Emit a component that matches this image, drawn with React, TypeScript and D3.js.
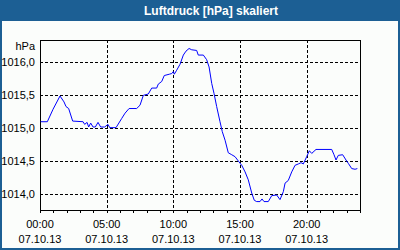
import React from "react";
import * as d3 from "d3";

const title = "Luftdruck [hPa] skaliert";
const unitLabel = "hPa";
const dateLabel = "07.10.13";
const xTickHours = [0, 5, 10, 15, 20];
const xTickLabels = ["00:00", "05:00", "10:00", "15:00", "20:00"];
const yTickValues = [1014.0, 1014.5, 1015.0, 1015.5, 1016.0];
const yTickLabels = ["1014,0", "1014,5", "1015,0", "1015,5", "1016,0"];

const hours = [
  0.05, 0.55, 0.98, 1.5, 1.8, 1.95, 2.15, 2.45, 3.23, 3.35, 3.53, 3.65, 3.8, 3.98, 4.15, 4.35, 4.55,
  4.85, 5.1, 5.23, 5.7, 6.13, 6.38, 6.68, 7.25, 7.5, 7.75, 8.12, 8.38, 8.75, 8.87, 9.13, 9.32, 9.7,
  9.88, 10.0, 10.07, 10.25, 10.5, 10.75, 10.95, 11.18, 11.38, 11.75, 11.87, 12.25, 12.5, 12.68, 12.88,
  13.05, 13.25, 13.5, 13.67, 13.88, 14.12, 14.38, 14.63, 14.93, 15.13, 15.38, 15.62, 15.88, 16.07,
  16.25, 16.5, 16.65, 16.8, 17.12, 17.38, 17.75, 18.0, 18.25, 18.38, 18.62, 18.88, 19.13, 19.37,
  19.58, 19.75, 20.0, 20.2, 20.38, 20.7, 21.88, 22.05, 22.2, 22.37, 22.7, 22.95, 23.12, 23.38, 23.63,
  23.8,
];
const pressure = [
  1015.1, 1015.1, 1015.29, 1015.49, 1015.4, 1015.33, 1015.3, 1015.11, 1015.1, 1015.06, 1015.09,
  1015.02, 1015.08, 1015.02, 1015.02, 1015.09, 1015.02, 1015.02, 1015.06, 1015.01, 1015.01, 1015.15,
  1015.23, 1015.3, 1015.3, 1015.35, 1015.5, 1015.52, 1015.61, 1015.61, 1015.67, 1015.71, 1015.8,
  1015.82, 1015.83, 1015.86, 1015.82, 1015.88, 1015.97, 1016.11, 1016.17, 1016.21, 1016.19, 1016.18,
  1016.11, 1016.11, 1016.04, 1015.93, 1015.68, 1015.53, 1015.33, 1015.1, 1014.95, 1014.82, 1014.63,
  1014.6, 1014.57, 1014.49, 1014.44, 1014.34, 1014.22, 1014.02, 1013.91, 1013.89, 1013.89, 1013.93,
  1013.89, 1013.89, 1013.98, 1013.99, 1013.92, 1014.04, 1014.17, 1014.21, 1014.34, 1014.44, 1014.46,
  1014.48, 1014.46, 1014.57, 1014.66, 1014.62, 1014.68, 1014.68, 1014.6, 1014.52, 1014.59, 1014.6,
  1014.52, 1014.47, 1014.39, 1014.38, 1014.39,
];

const W = 400;
const H = 250;
const left = 40;
const right = 360;
const top = 40;
const bottom = 210;
const font = "'Liberation Sans', Arial, sans-serif";
const frameBlue = "#1c5f94";

export default function App() {
  const x = d3.scaleLinear().domain([0, 24]).range([left, right]);
  const y = d3
    .scaleLinear()
    .domain([1015.0 - (bottom - 128.33) / 66, 1015.0 + (128.33 - top) / 66])
    .range([bottom, top]);
  const pts: [number, number][] = hours.map((h, i) => [h, pressure[i]]);
  const line = d3
    .line<[number, number]>()
    .x((d) => x(d[0]))
    .y((d) => y(d[1]));
  const minorTicks = d3.range(0, 25, 1);
  return (
    <div>
      <style>{`body{margin:0;}`}</style>
      <svg width={W} height={H} style={{ display: "block" }}>
        <rect x={0} y={0} width={W} height={H} fill={frameBlue} />
        <rect x={2} y={21} width={W - 4} height={H - 23} fill="#fbfdfb" />
        <text
          x={211}
          y={15}
          textAnchor="middle"
          fill="#ffffff"
          fontFamily={font}
          fontWeight="bold"
          fontSize={12}
        >
          {title}
        </text>
        {/* grid */}
        {yTickValues.map((v, i) => (
          <line
            key={"gy" + i}
            x1={left}
            x2={right}
            y1={Math.round(y(v)) + 0.5}
            y2={Math.round(y(v)) + 0.5}
            stroke="#000"
            strokeDasharray="3,2"
            shapeRendering="crispEdges"
          />
        ))}
        {xTickHours.slice(1).map((h, i) => (
          <line
            key={"gx" + i}
            x1={Math.round(x(h)) + 0.5}
            x2={Math.round(x(h)) + 0.5}
            y1={top}
            y2={bottom}
            stroke="#000"
            strokeDasharray="3,2"
            shapeRendering="crispEdges"
          />
        ))}
        {/* frame */}
        <rect
          x={left + 0.5}
          y={top + 0.5}
          width={right - left}
          height={bottom - top}
          fill="none"
          stroke="#000"
          shapeRendering="crispEdges"
        />
        {minorTicks.map((h) => (
          <line
            key={"t" + h}
            x1={Math.round(x(h)) + 0.5}
            x2={Math.round(x(h)) + 0.5}
            y1={bottom}
            y2={bottom + 3}
            stroke="#000"
            shapeRendering="crispEdges"
          />
        ))}
        {/* data */}
        <path d={line(pts) || ""} fill="none" stroke="#0000ff" strokeWidth={1} />
        {/* y labels */}
        <text x={35} y={50} textAnchor="end" fontFamily={font} fontSize={11} fill="#000">
          {unitLabel}
        </text>
        {yTickValues.map((v, i) => (
          <text
            key={"yl" + i}
            x={35}
            y={Math.round(y(v)) + 4}
            textAnchor="end"
            fontFamily={font}
            fontSize={11}
            fill="#000"
          >
            {yTickLabels[i]}
          </text>
        ))}
        {xTickHours.map((h, i) => (
          <g key={"xl" + i}>
            <text x={x(h)} y={228} textAnchor="middle" fontFamily={font} fontSize={11} fill="#000">
              {xTickLabels[i]}
            </text>
            <text x={x(h)} y={243} textAnchor="middle" fontFamily={font} fontSize={11} fill="#000">
              {dateLabel}
            </text>
          </g>
        ))}
      </svg>
    </div>
  );
}
